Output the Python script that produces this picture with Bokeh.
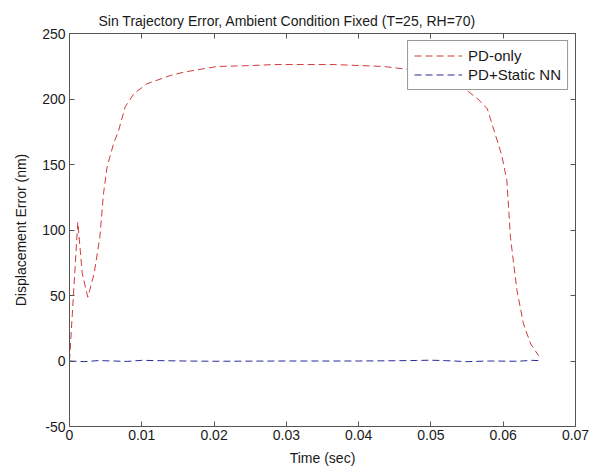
from bokeh.plotting import figure
from bokeh.models import Range1d, FixedTicker, LinearAxis, NumeralTickFormatter, Legend, LegendItem
from bokeh.embed import file_html
from bokeh.resources import INLINE

# ---- data ----
t_pd = [0, 0.00115, 0.00176, 0.00253, 0.0034, 0.0042, 0.0047, 0.0052, 0.0061, 0.0068,
        0.0077, 0.0089, 0.0107, 0.014, 0.0158, 0.0204, 0.025, 0.0283, 0.0366, 0.0435,
        0.0462, 0.049, 0.052, 0.055, 0.0565, 0.0578, 0.0598, 0.0605, 0.061, 0.0619,
        0.0628, 0.0638, 0.0649]
v_pd = [0, 106, 67, 48.7, 66.5, 94.5, 127.6, 148, 166, 176,
        194, 204, 211.6, 218, 220.5, 224.8, 225.5, 226.3, 226.3, 224.8,
        223, 221, 216, 206.5, 200, 192.5, 157, 138, 94.5, 54,
        28.4, 13, 4]

t_nn = [0, 0.002, 0.004, 0.008, 0.010, 0.012, 0.016, 0.02, 0.03, 0.04, 0.045,
        0.048, 0.05, 0.052, 0.055, 0.058, 0.062, 0.064, 0.065]
v_nn = [0, -0.5, 0.3, -0.3, 0.5, 0.3, 0, -0.2, 0, 0, 0.2,
        0.4, 0.6, 0.3, -0.5, 0, -0.2, 0.5, 0.3]

x_ticks = [0, 0.01, 0.02, 0.03, 0.04, 0.05, 0.06, 0.07]
y_ticks = [-50, 0, 50, 100, 150, 200, 250]

title_text = "Sin Trajectory Error, Ambient Condition Fixed (T=25, RH=70)"
x_label = "Time (sec)"
y_label = "Displacement Error (nm)"
series_names = ["PD-only", "PD+Static NN"]

FONT = "Liberation Sans"
AXIS_COL = "#555555"
TXT_COL = "#1a1a1a"

p = figure(width=600, height=468, output_backend="svg", toolbar_location=None,
           x_range=Range1d(0, 0.07), y_range=Range1d(-50, 250),
           min_border_left=69, min_border_right=25, min_border_top=33, min_border_bottom=42)
p.title.text = title_text
p.title.align = "left"
p.title.offset = 29
p.title.text_font = FONT
p.title.text_font_size = "14px"
p.title.text_font_style = "normal"
p.title.text_color = TXT_COL
p.title.vertical_align = "middle"
p.title.standoff = 8
p.outline_line_color = None
p.xgrid.visible = False
p.ygrid.visible = False

r1 = p.line(t_pd, v_pd, line_color="#d03a3a", line_width=1, line_dash="7 4")
r2 = p.line(t_nn, v_nn, line_color="#2a2a9a", line_width=1, line_dash="7 4")

def style_axis(ax, show_labels=True):
    ax.axis_line_color = AXIS_COL
    ax.major_tick_line_color = AXIS_COL
    ax.major_tick_in = 5
    ax.major_tick_out = 0
    ax.minor_tick_line_color = None
    ax.major_label_text_font = FONT
    ax.axis_label_text_font = FONT
    ax.axis_label_text_font_style = "normal"
    ax.axis_label_text_color = TXT_COL
    ax.axis_label_text_font_size = "14px"
    if show_labels:
        ax.major_label_text_color = TXT_COL
        ax.major_label_text_font_size = "14px"
    else:
        ax.major_label_text_color = None
        ax.major_label_text_font_size = "1px"
        ax.major_label_standoff = 0

xa = p.xaxis[0]
xa.ticker = FixedTicker(ticks=x_ticks)
xa.formatter = NumeralTickFormatter(format="0.[00]")
xa.axis_label = x_label
xa.major_label_standoff = 3
xa.axis_label_standoff = 7
style_axis(xa)

ya = p.yaxis[0]
ya.ticker = FixedTicker(ticks=y_ticks)
ya.formatter = NumeralTickFormatter(format="0")
ya.axis_label = y_label
ya.major_label_standoff = 4
ya.axis_label_standoff = 10
style_axis(ya)

top = LinearAxis(ticker=FixedTicker(ticks=x_ticks))
style_axis(top, False)
p.add_layout(top, "above")
right = LinearAxis(ticker=FixedTicker(ticks=y_ticks))
style_axis(right, False)
p.add_layout(right, "right")

legend = Legend(items=[LegendItem(label=series_names[0], renderers=[r1]),
                       LegendItem(label=series_names[1], renderers=[r2])],
                location="top_right")
legend.label_text_font = FONT
legend.label_text_font_size = "15px"
legend.label_text_color = TXT_COL
legend.border_line_color = "#333333"
legend.background_fill_color = "white"
legend.background_fill_alpha = 1
legend.glyph_width = 48
legend.glyph_height = 17
legend.label_height = 17
legend.label_standoff = 6
legend.spacing = 2
legend.padding = 6
legend.margin = 7
p.add_layout(legend)

open("out.html", "w").write(file_html(p, INLINE))
